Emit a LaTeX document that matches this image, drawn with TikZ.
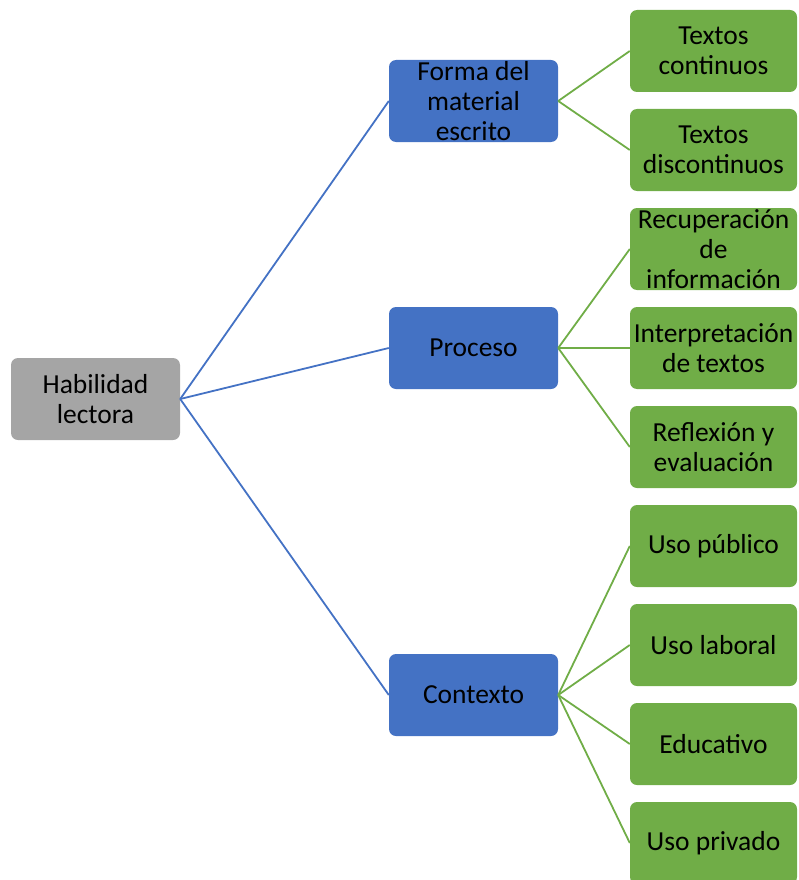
\documentclass[tikz,border=0pt]{standalone}
\usepackage{fontspec}
\setmainfont{Carlito}
\usetikzlibrary{positioning}
\definecolor{rootgray}{HTML}{A5A5A5}
\definecolor{midblue}{HTML}{4472C4}
\definecolor{leafgreen}{HTML}{70AD47}
\begin{document}
\begin{tikzpicture}[x=1pt, y=-1pt,
    box/.style={rectangle, rounded corners=7pt, minimum width=169pt, minimum height=82pt,
        inner sep=0pt, align=center, font=\fontsize{27.5}{30}\selectfont},
    rootbox/.style={box, fill=rootgray},
    midbox/.style={box, fill=midblue},
    leafbox/.style={box, fill=leafgreen, minimum width=167pt},
    blueline/.style={midblue, line width=1.8pt},
    greenline/.style={leafgreen, line width=1.8pt}]
    \useasboundingbox (0,0) rectangle (798,880);
    \clip (0,0) rectangle (798,880);
    % root
    \node[rootbox] (root) at (95.5,399) {Habilidad\\lectora};
    % second level
    \node[midbox] (forma) at (473.5,101) {Forma del\\material\\escrito};
    \node[midbox] (proceso) at (473.5,348) {Proceso};
    \node[midbox] (contexto) at (473.5,695) {Contexto};
    % leaves
    \node[leafbox] (cont) at (713.5,51) {Textos\\continuos};
    \node[leafbox] (disc) at (713.5,150) {Textos\\discontinuos};
    \node[leafbox] (recu) at (713.5,249) {Recuperación\\de\\información};
    \node[leafbox] (inter) at (713.5,348) {Interpretación\\de textos};
    \node[leafbox] (refl) at (713.5,447) {Reflexión y\\evaluación};
    \node[leafbox] (publ) at (713.5,546) {Uso público};
    \node[leafbox] (labo) at (713.5,645) {Uso laboral};
    \node[leafbox] (educ) at (713.5,744) {Educativo};
    \node[leafbox] (priv) at (713.5,843) {Uso privado};
    % connectors
    \foreach \m in {forma,proceso,contexto}
        \draw[blueline] (root.east) -- (\m.west);
    \foreach \l in {cont,disc}
        \draw[greenline] (forma.east) -- (\l.west);
    \foreach \l in {recu,inter,refl}
        \draw[greenline] (proceso.east) -- (\l.west);
    \foreach \l in {publ,labo,educ,priv}
        \draw[greenline] (contexto.east) -- (\l.west);
\end{tikzpicture}
\end{document}
